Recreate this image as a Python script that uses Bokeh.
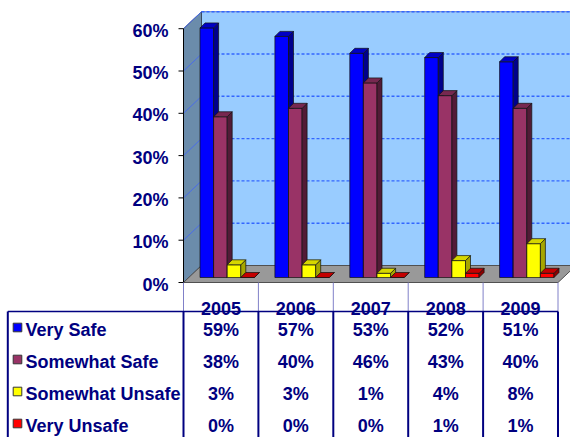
from bokeh.plotting import figure
from bokeh.models import Range1d
from bokeh.core.properties import value
from bokeh.embed import file_html
from bokeh.resources import INLINE

# ---- data -------------------------------------------------------------
years = ["2005", "2006", "2007", "2008", "2009"]
series_names = ["Very Safe", "Somewhat Safe", "Somewhat Unsafe", "Very Unsafe"]
very_safe = [59, 57, 53, 52, 51]
somewhat_safe = [38, 40, 46, 43, 40]
somewhat_unsafe = [3, 3, 1, 4, 8]
very_unsafe = [0, 0, 0, 1, 1]
tick_values = [0, 10, 20, 30, 40, 50, 60]
tick_labels = ["0%", "10%", "20%", "30%", "40%", "50%", "60%"]

series_values = [very_safe, somewhat_safe, somewhat_unsafe, very_unsafe]
# front, side, top shades for each series
series_colors = [
    ("#0000FF", "#00008C", "#0000C4"),
    ("#993366", "#521B37", "#772850"),
    ("#FFFF00", "#A6A600", "#D6D600"),
    ("#FF0000", "#8C0000", "#C40000"),
]

# ---- scales: x in category units, y in percent -------------------------
W, H = 570, 437
CAT_PX = 74.9          # pixels per category
PCT_PX = 4.23          # pixels per percentage point
ORIGIN_X, ORIGIN_Y = 183, 282   # front-left corner of the floor on the canvas

def ux(px):
    return (px - ORIGIN_X) / CAT_PX

def uy(py):
    return (ORIGIN_Y - py) / PCT_PX

n = len(years)
y_max = tick_values[-1]

# depth of the 3-D box and the bars
DX, DY = 18 / CAT_PX, 17 / PCT_PX
BAR_W = 13.6 / CAT_PX
BAR_X0 = 16.5 / CAT_PX
BAR_BASE = 5 / PCT_PX
BDX, BDY = 5 / CAT_PX, 5 / PCT_PX

NAVY = "#000080"
FONT = value("Liberation Sans")
FSIZE = "18px"
# distance from a text row's visual centre to the anchor used for drawing
TXT = 0.5 / PCT_PX
TICK_TXT = -2.0 / PCT_PX

p = figure(width=W, height=H, output_backend="svg", toolbar_location=None,
           x_range=Range1d(ux(0), ux(W)), y_range=Range1d(uy(H), uy(0)),
           x_axis_location=None, y_axis_location=None, min_border=0)
p.grid.visible = False
p.outline_line_color = None
p.background_fill_color = "white"
p.border_fill_color = "white"

# ---- walls and floor ---------------------------------------------------
p.patch([DX, n + DX + 0.5, n + DX + 0.5, DX], [DY, DY, y_max + DY, y_max + DY],
        fill_color="#99CCFF", line_color="#6A7FC0", line_width=1)
p.patch([0, DX, DX, 0], [0, DY, y_max + DY, y_max],
        fill_color="#6B8CAB", line_color="#3A4A60", line_width=1)
p.patch([0, n, n + DX, DX], [0, 0, DY, DY],
        fill_color="#999999", line_color="#505050", line_width=1)

# gridlines on the back wall (dashed) and the side wall
grid_t = tick_values[1:]
p.segment(x0=[DX] * len(grid_t), y0=[t + DY for t in grid_t],
          x1=[n + DX + 0.5] * len(grid_t), y1=[t + DY for t in grid_t],
          line_color="#3366FF", line_width=1.4, line_dash="3 2")
p.segment(x0=[0] * len(grid_t), y0=grid_t, x1=[DX] * len(grid_t),
          y1=[t + DY for t in grid_t], line_color="#4A6CE8", line_width=1)

# ---- 3-D columns ---------------------------------------------------------
for j, vals in enumerate(series_values):
    front, side, top = series_colors[j]
    lefts = [i + BAR_X0 + j * BAR_W for i in range(n)]
    rights = [l + BAR_W for l in lefts]
    bottoms = [BAR_BASE] * n
    tops = [BAR_BASE + v for v in vals]
    p.quad(left=lefts, right=rights, bottom=bottoms, top=tops,
           fill_color=front, line_color="#111111", line_width=0.7)
    p.patches(xs=[[r, r + BDX, r + BDX, r] for r in rights],
              ys=[[b, b + BDY, t + BDY, t] for b, t in zip(bottoms, tops)],
              fill_color=side, line_color="#111111", line_width=0.7)
    p.patches(xs=[[l, r, r + BDX, l + BDX] for l, r in zip(lefts, rights)],
              ys=[[t, t, t + BDY, t + BDY] for t in tops],
              fill_color=top, line_color="#111111", line_width=0.7)

# ---- value axis ----------------------------------------------------------
p.segment(x0=[0], y0=[0], x1=[0], y1=[y_max], line_color="black", line_width=1)
p.segment(x0=[-5 / CAT_PX] * len(tick_values), y0=tick_values,
          x1=[0] * len(tick_values), y1=tick_values, line_color="black", line_width=1)
p.text(x=[ux(168)] * len(tick_values), y=[t + TICK_TXT for t in tick_values], text=tick_labels,
       text_font=FONT, text_font_style="bold", text_font_size=FSIZE,
       text_color=NAVY, text_align="right", text_baseline="alphabetic")

# ---- data table ------------------------------------------------------------
table_top = uy(311)
table_bottom = uy(H + 2)
table_left = ux(7.3)
p.segment(x0=list(range(n + 1)), y0=[0] * (n + 1), x1=list(range(n + 1)),
          y1=[table_top] * (n + 1), line_color="#8080C8", line_width=1)
p.segment(x0=list(range(n + 1)) + [table_left], y0=[table_top] * (n + 2),
          x1=list(range(n + 1)) + [table_left], y1=[table_bottom] * (n + 2),
          line_color=NAVY, line_width=2)

cx = [i + 0.5 for i in range(n)]
p.text(x=cx, y=[uy(308.5) + TXT] * n, text=years,
       text_font=FONT, text_font_style="bold", text_font_size=FSIZE,
       text_color=NAVY, text_align="center", text_baseline="alphabetic")
p.segment(x0=[table_left], y0=[table_top], x1=[n], y1=[table_top],
          line_color=NAVY, line_width=1.5)

ROW_STEP = 32 / PCT_PX
row_center = [uy(330) - k * ROW_STEP for k in range(len(series_names))]

p.text(x=[ux(25)] * len(series_names), y=[c + TXT for c in row_center], text=series_names,
       text_font=FONT, text_font_style="bold", text_font_size=FSIZE,
       text_color=NAVY, text_align="left", text_baseline="alphabetic")

KEY = 8.6
p.quad(left=[ux(12.7)] * len(series_names), right=[ux(12.7 + KEY)] * len(series_names),
       bottom=[c + 3 / PCT_PX - KEY / 2 / PCT_PX for c in row_center],
       top=[c + 3 / PCT_PX + KEY / 2 / PCT_PX for c in row_center],
       fill_color=[c[0] for c in series_colors], line_color="#333333", line_width=1)

for k, vals in enumerate(series_values):
    p.text(x=cx, y=[row_center[k] + TXT] * n, text=[f"{v}%" for v in vals],
           text_font=FONT, text_font_style="bold", text_font_size=FSIZE,
           text_color=NAVY, text_align="center", text_baseline="alphabetic")

open("out.html", "w").write(file_html(p, INLINE))
